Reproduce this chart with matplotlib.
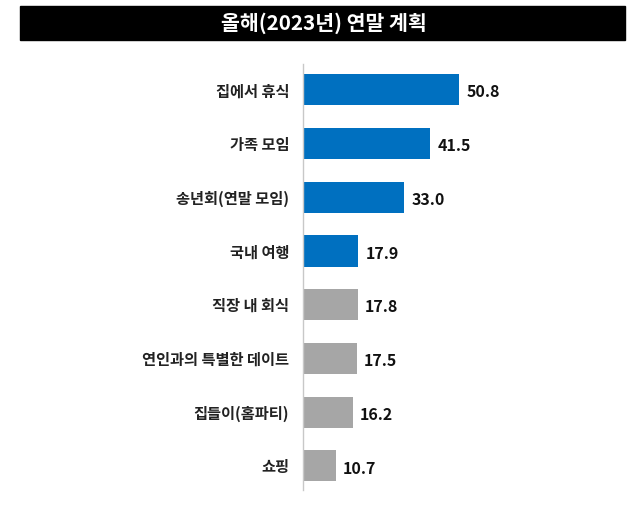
import matplotlib
matplotlib.use("Agg")
import matplotlib.pyplot as plt
from matplotlib.patches import Rectangle

plt.rcParams["font.family"] = ["Noto Sans CJK KR", "DejaVu Sans"]

TITLE = "올해(2023년) 연말 계획"
labels = ["집에서 휴식", "가족 모임", "송년회(연말 모임)", "국내 여행",
          "직장 내 회식", "연인과의 특별한 데이트", "집들이(홈파티)", "쇼핑"]
values = [50.8, 41.5, 33.0, 17.9, 17.8, 17.5, 16.2, 10.7]
BLUE, GRAY = "#0070C0", "#A6A6A6"
colors = [BLUE] * 4 + [GRAY] * 4

fig = plt.figure(figsize=(6.4, 5.08), dpi=100)

# title bar
fig.patches.append(Rectangle((20 / 640, 1 - 40 / 508), 605 / 640, 34 / 508,
                             transform=fig.transFigure, color="black", zorder=0))
fig.text(324 / 640, 1 - 23 / 508, TITLE, color="white", fontsize=14.8,
         fontweight="bold", ha="center", va="center")

ax = fig.add_axes([303 / 640, 1 - 490 / 508, 324 / 640, 426 / 508])
y = list(range(len(labels)))
ax.barh(y, values, height=0.58, color=colors)
ax.set_xlim(0, 324 / 3.07)
ax.set_ylim(len(labels) - 1 + 0.45, -0.48)

for i, v in enumerate(values):
    ax.text(v + 2.4, i + 0.05, f"{v:.1f}", va="center", ha="left",
            fontsize=11.5, fontweight="bold", color="#111111")

ax.set_yticks(y)
ax.set_yticklabels(labels, fontsize=11, fontweight="bold", color="#222222")
ax.tick_params(axis="y", length=0, pad=10)
ax.set_xticks([])
for s in ["top", "right", "bottom"]:
    ax.spines[s].set_visible(False)
ax.spines["left"].set_color("#C8C8C8")
ax.spines["left"].set_linewidth(1)

fig.savefig("out.png", dpi=100)
